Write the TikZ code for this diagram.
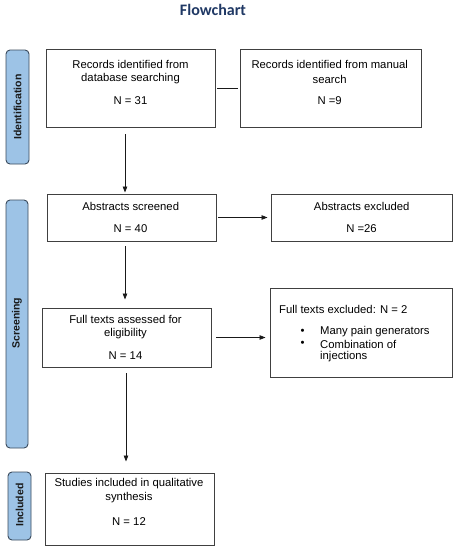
\documentclass[tikz,border=0pt]{standalone}
\usepackage{fontspec}
\setmainfont{Liberation Sans}
\newfontfamily\titlefont{Carlito}
\usetikzlibrary{arrows.meta}
\definecolor{titleblue}{HTML}{1F3864}
\definecolor{barfill}{HTML}{9DC3E6}
\definecolor{barline}{HTML}{3A4A5C}
\definecolor{boxline}{HTML}{404040}
\tikzset{
  box/.style={draw=boxline, line width=0.9pt, rectangle, inner sep=0pt},
  bar/.style={draw=barline, fill=barfill, line width=0.9pt, rounded corners=4pt, inner sep=0pt},
  txt/.style={inner sep=0pt, font=\fontsize{11.3}{13.5}\selectfont, text=black},
  bartxt/.style={inner sep=0pt, rotate=90, font=\bfseries\fontsize{10.5}{12}\selectfont, text=black!90},
  arr/.style={-{Triangle[length=6pt,width=4.5pt]}, line width=0.8pt, draw=black!90},
  ln/.style={line width=0.8pt, draw=black!90}
}
\begin{document}
\begin{tikzpicture}[x=1pt,y=-1pt]
\useasboundingbox (0,0) rectangle (458,550);
% title
\node[inner sep=0pt, font=\titlefont\bfseries\fontsize{16}{18}\selectfont, text=titleblue] (title) at (213,10) {Flowchart};
% side bars
\node[bar, minimum width=23pt, minimum height=114pt] (bid) at (17.5,107) {};
\node[bartxt] (bidt) at (17.5,107) {Identification};
\node[bar, minimum width=22pt, minimum height=248pt] (bsc) at (17,324) {};
\node[bartxt] (bsct) at (17,323) {Screening};
\node[bar, minimum width=23pt, minimum height=68pt] (bin) at (19.5,506) {};
\node[bartxt] (bint) at (19.5,505) {Included};
% boxes
\node[box, minimum width=169pt, minimum height=78pt] (b1) at (130.5,88) {};
\node[box, minimum width=181pt, minimum height=78pt] (b2) at (330.5,88) {};
\node[box, minimum width=169pt, minimum height=47pt] (b3) at (131.5,217.5) {};
\node[box, minimum width=181pt, minimum height=47pt] (b4) at (361.5,217.5) {};
\node[box, minimum width=169pt, minimum height=59pt] (b5) at (126.5,337.5) {};
\node[box, minimum width=182pt, minimum height=89pt] (b6) at (361,332.5) {};
\node[box, minimum width=169pt, minimum height=72pt] (b7) at (129.5,509) {};
% texts
\node[txt] (t1a) at (130.5,64) {Records identified from};
\node[txt] (t1b) at (130.5,79) {database searching};
\node[txt] (t1c) at (130.5,101) {N = 31};
\node[txt] (t2a) at (329.7,64) {Records identified from manual};
\node[txt] (t2b) at (329.7,79) {search};
\node[txt] (t2c) at (329.7,101) {N =9};
\node[txt] (t3a) at (130.7,206) {Abstracts screened};
\node[txt] (t3b) at (130.5,229) {N = 40};
\node[txt] (t4a) at (361.7,206) {Abstracts excluded};
\node[txt] (t4b) at (361.5,229) {N =26};
\node[txt] (t5a) at (125.5,319) {Full texts assessed for};
\node[txt] (t5b) at (125.5,334) {eligibility};
\node[txt] (t5c) at (125.5,356) {N = 14};
\node[txt, anchor=west] (t6a) at (279,309) {Full texts excluded: N = 2};
\node[txt] (t6b1) at (302.5,332) {\textbullet};
\node[txt, anchor=west] (t6b) at (320,332) {Many pain generators};
\node[txt] (t6c1) at (302.5,344) {\textbullet};
\node[txt, anchor=west] (t6c) at (320,344.5) {Combination of};
\node[txt, anchor=west] (t6d) at (320,357) {injections};
\node[txt] (t7a) at (129,484) {Studies included in qualitative};
\node[txt] (t7b) at (129,498) {synthesis};
\node[txt] (t7c) at (129,522) {N = 12};
% connector x positions
\coordinate (cx1) at (125,0);
\coordinate (cx2) at (126,0);
% connectors
\draw[ln, shorten <=2pt, shorten >=2pt] (b1.east) -- (b2.west);
\draw[arr, shorten <=7pt, shorten >=1pt] (b1.south -| cx1) -- (b3.north -| cx1);
\draw[arr, shorten <=2pt, shorten >=3pt] (b3.east) -- (b4.west);
\draw[arr, shorten <=5pt, shorten >=8pt] (b3.south -| cx1) -- (b5.north -| cx1);
\draw[arr, shorten <=5pt, shorten >=4pt] (b5.east) -- (b6.west |- b5.east);
\draw[arr, shorten <=6pt, shorten >=11pt] (b5.south -| cx2) -- (b7.north -| cx2);
\end{tikzpicture}
\end{document}
